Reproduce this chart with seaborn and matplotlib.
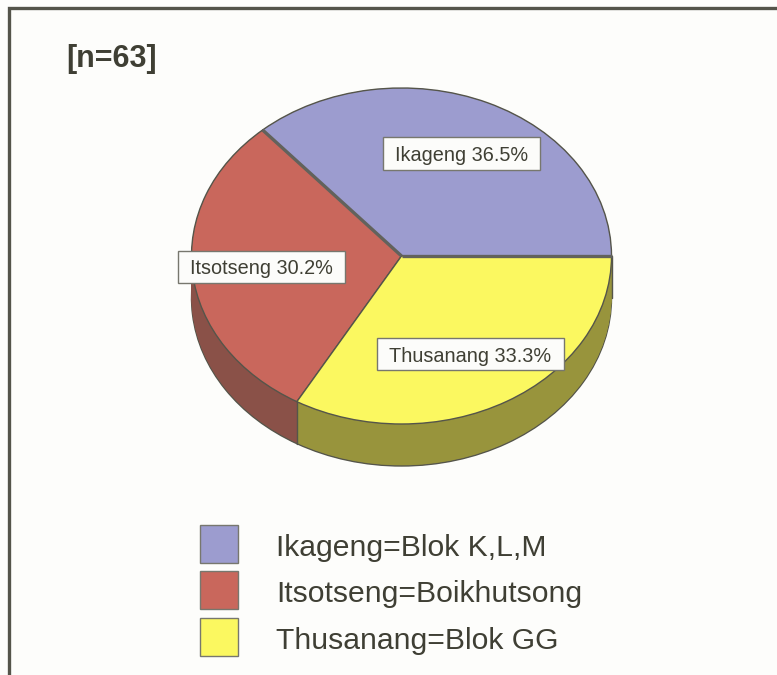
import matplotlib
matplotlib.use("Agg")
import matplotlib.pyplot as plt
from matplotlib.lines import Line2D
from matplotlib.patches import Patch, Rectangle
import numpy as np
import seaborn as sns

categories = ["Ikageng", "Itsotseng", "Thusanang"]
values = [36.5, 30.2, 33.3]
legend_labels = ["Ikageng=Blok K,L,M", "Itsotseng=Boikhutsong", "Thusanang=Blok GG"]
top_colors = ["#9c9ccf", "#c9675c", "#fbf860"]
side_colors = ["#6e6e92", "#8a5148", "#98943c"]
note = "[n=63]"

W, H = 777, 675
sns.set_theme(style="white")
plt.rcParams["font.family"] = ["Liberation Sans", "DejaVu Sans"]
TEXT = "#3f3f34"
EDGE = "#55554a"

fig = plt.figure(figsize=(W / 100, H / 100), dpi=100, facecolor="#fdfdfb")

# frame: only the top and left rules are inside the picture
fig.add_artist(Line2D([9 / W, 9 / W, 1], [0, 1 - 8 / H, 1 - 8 / H], transform=fig.transFigure,
                      color="#54544a", linewidth=2.4, solid_joinstyle="miter"))

# pie axes: 1 unit = 210 px across, 168 px down
cx, cy, rx, ry = 401.5, 256, 210, 168
extra = 60
ax = fig.add_axes([(cx - 1.25 * rx) / W, 1 - (cy + 1.25 * ry + extra) / H,
                   2.5 * rx / W, (2.5 * ry + extra) / H])
depth = 42 / ry

for k in range(43):
    off = depth * (1 - k / 42)
    is_bottom = k == 0
    ax.pie(values, startangle=0, counterclock=True, colors=side_colors, radius=1,
           center=(0, -off),
           wedgeprops=dict(edgecolor=EDGE if is_bottom else "none",
                           linewidth=1.0 if is_bottom else 0))
ax.pie(values, startangle=0, counterclock=True, colors=top_colors, radius=1,
       center=(0, 0), wedgeprops=dict(edgecolor=EDGE, linewidth=1.0))
ax.set_aspect("auto")
ax.set_xlim(-1.25, 1.25)
ax.set_ylim(-1.25 - extra / ry, 1.25)
ax.set_axis_off()

# slice boundaries taken from the values
bounds = np.radians(np.cumsum([0] + values) / sum(values) * 360)
bx, by = np.cos(bounds), np.sin(bounds)
ax.plot([bx[2], bx[2]], [by[2], by[2] - depth], color=EDGE, lw=1.0)
ax.plot([1, 1], [0, -depth], color=EDGE, lw=1.0)
# heavier rules where the blue slice meets its neighbours
for i in (0, 1):
    ax.plot([0, bx[i]], [0, by[i]], color="#62625c", lw=2.4, solid_capstyle="butt")

# slice labels: boxes and text placed in figure pixels
boxes = [(383, 137, 157, 33), (178, 251, 167, 32), (377, 338, 187, 32)]
for name, v, (x0, y0, bw, bh) in zip(categories, values, boxes):
    fig.add_artist(Rectangle((x0 / W, 1 - (y0 + bh) / H), bw / W, bh / H,
                             transform=fig.transFigure, facecolor="#fcfcfa",
                             edgecolor="#77776e", linewidth=1.0, zorder=5))
    fig.text((x0 + bw / 2) / W, 1 - (y0 + bh / 2) / H, f"{name} {v}%", ha="center",
             va="center_baseline", fontsize=14.3, color=TEXT, zorder=6)

fig.text(66 / W, 1 - 59.5 / H, note, fontsize=22, fontweight="bold", color=TEXT,
         ha="left", va="center")

handles = [Patch(facecolor=c, edgecolor="#77776e", linewidth=1.0) for c in top_colors]
leg = fig.legend(handles, legend_labels, loc="upper left", bbox_to_anchor=(200 / W, 1 - 525 / H),
                 frameon=False, fontsize=21.7, labelcolor=TEXT, borderpad=0, borderaxespad=0,
                 handlelength=1.26, handleheight=1.56, handletextpad=1.26, labelspacing=0.28)
for t in leg.get_texts():
    t.set_position((0, -2))

fig.savefig("out.png", dpi=100, facecolor=fig.get_facecolor())
